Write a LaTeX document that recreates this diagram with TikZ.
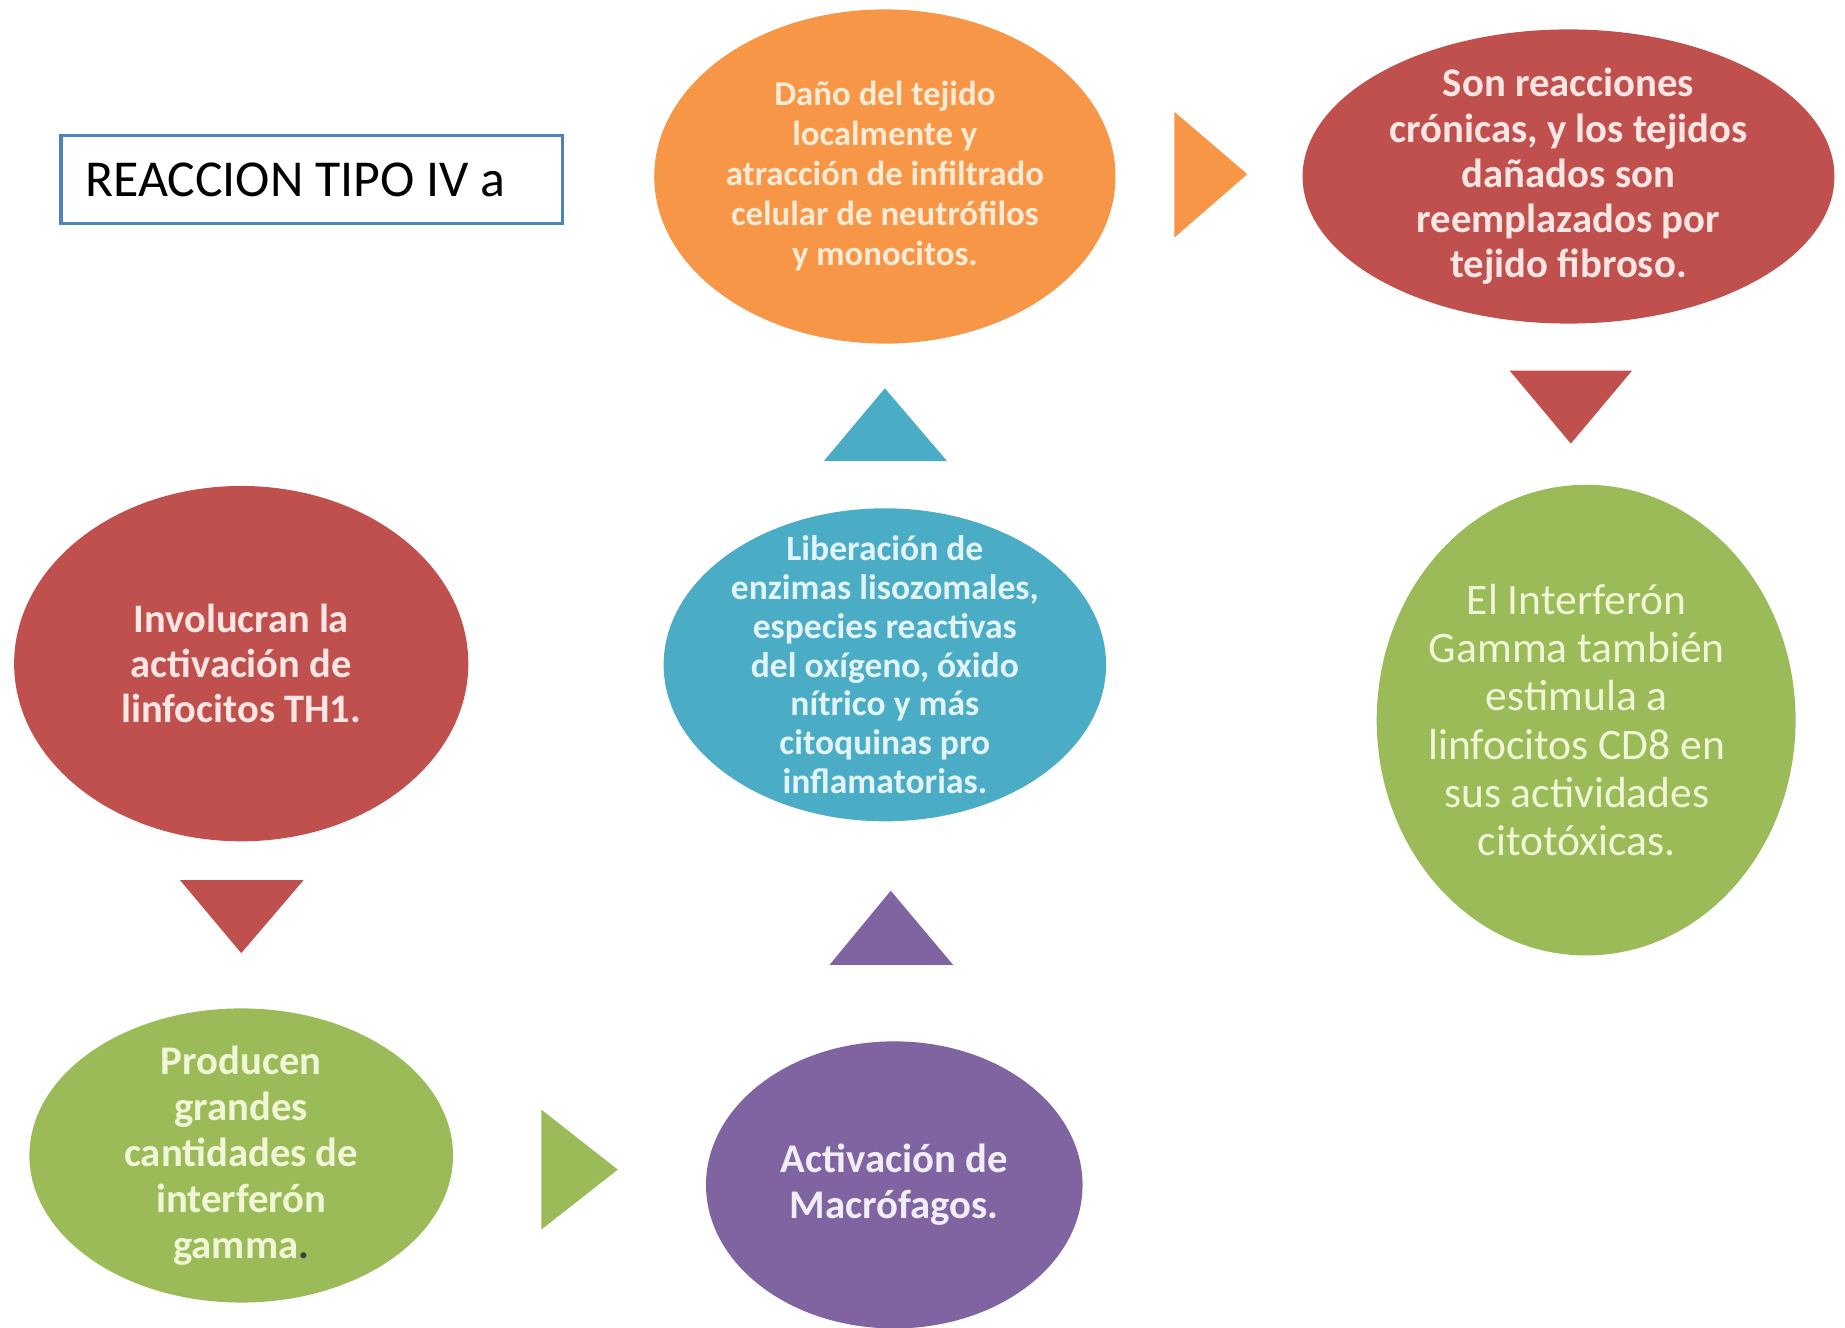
\documentclass[tikz,border=0pt]{standalone}
\usepackage{fontspec}
\setmainfont{Carlito}
\usetikzlibrary{shapes.geometric}
\definecolor{oorange}{HTML}{F79646}
\definecolor{ored}{HTML}{C0504D}
\definecolor{oaqua}{HTML}{4BACC6}
\definecolor{ogreen}{HTML}{9BBB59}
\definecolor{opurple}{HTML}{8064A2}
\definecolor{oblue}{HTML}{4F81BD}
\definecolor{torange}{HTML}{FDEBD6}
\definecolor{tred}{HTML}{FBE6E4}
\definecolor{taqua}{HTML}{E2F4F8}
\definecolor{tgreen}{HTML}{F0F6D6}
\definecolor{tpurple}{HTML}{F2EEF7}
\begin{document}
\begin{tikzpicture}[x=0.5pt,y=-0.5pt,
  blob/.style={ellipse, draw=none, inner sep=0pt, outer sep=0pt},
  lbl/.style={align=center, inner sep=0pt, outer sep=0pt},
  tri/.style={draw=none}]
\useasboundingbox (0,0) rectangle (1568,1127.8);
\fill[white] (0,0) rectangle (1568,1127.8);

% title box
\node[draw=oblue, line width=1.5pt, minimum width=213pt, minimum height=37.5pt, inner sep=0pt] (title) at (265,152.5) {};
\node[anchor=west, inner sep=0pt, font=\fontsize{22pt}{26pt}\selectfont] (titlet) at (72,153) {REACCION TIPO IV a};

% ellipses
\node[blob, fill=oorange, minimum width=196pt, minimum height=142pt] (dano) at (752,150) {};
\node[blob, fill=ored, minimum width=226pt, minimum height=125pt] (cron) at (1333,150) {};
\node[blob, fill=ogreen, minimum width=178pt, minimum height=200pt] (ifn) at (1348,612) {};
\node[blob, fill=oaqua, minimum width=188pt, minimum height=133pt] (lib) at (752,565) {};
\node[blob, fill=opurple, minimum width=160pt, minimum height=122pt] (macro) at (760,1007) {};
\node[blob, fill=ored, minimum width=193pt, minimum height=151pt] (th1) at (205,564) {};
\node[blob, fill=ogreen, minimum width=180pt, minimum height=125pt] (prod) at (205,982) {};

% texts
\node[lbl, text=torange, font=\bfseries\fontsize{14.8pt}{17pt}\selectfont] (danot) at (dano) {Daño del tejido\\localmente y\\atracción de infiltrado\\celular de neutrófilos\\y monocitos.};
\node[lbl, text=tred, font=\bfseries\fontsize{17.3pt}{19.25pt}\selectfont] (cront) at (cron) {Son reacciones\\crónicas, y los tejidos\\dañados son\\reemplazados por\\tejido fibroso.};
\node[lbl, text=tgreen, font=\fontsize{18.5pt}{20.5pt}\selectfont] (ifnt) at ([xshift=-4]ifn.center) {El Interferón\\Gamma también\\estimula a\\linfocitos CD8 en\\sus actividades\\citotóxicas.};
\node[lbl, text=taqua, font=\bfseries\fontsize{15.1pt}{16.5pt}\selectfont] (libt) at (lib) {Liberación de\\enzimas lisozomales,\\especies reactivas\\del oxígeno, óxido\\nítrico y más\\citoquinas pro\\inflamatorias.};
\node[lbl, text=tpurple, font=\bfseries\fontsize{17.3pt}{19.5pt}\selectfont] (macrot) at (macro) {Activación de\\Macrófagos.};
\node[lbl, text=tred, font=\bfseries\fontsize{17.2pt}{19.25pt}\selectfont] (th1t) at (th1) {Involucran la\\activación de\\linfocitos TH1.};
\node[lbl, text=tgreen, font=\bfseries\fontsize{17.3pt}{19.5pt}\selectfont] (prodt) at (prod) {Producen\\grandes\\cantidades de\\interferón\\gamma{\color{black!75}.}};

% triangle arrows
\fill[oorange] (998,95) -- (998,202) -- (1060,148) -- cycle;
\fill[ored] (1283,315) -- (1387,315) -- (1335,377) -- cycle;
\fill[oaqua] (700,392) -- (805,392) -- (752,330) -- cycle;
\fill[opurple] (705,820) -- (810,820) -- (757,757) -- cycle;
\fill[ored] (153,748) -- (258,748) -- (205,810) -- cycle;
\fill[ogreen] (460,943) -- (460,1045) -- (525,994) -- cycle;
\end{tikzpicture}
\end{document}
